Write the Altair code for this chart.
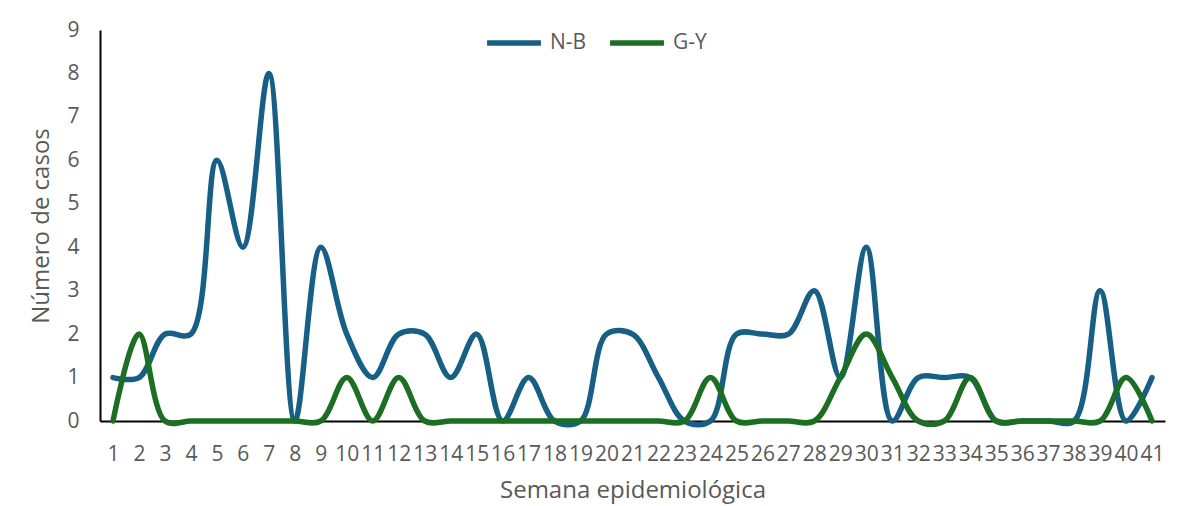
import altair as alt
import pandas as pd

weeks = [str(i) for i in range(1, 42)]
nb = [1, 1, 2, 2, 6, 4, 8, 0, 4, 2, 1, 2, 2, 1, 2, 0, 1, 0, 0, 2, 2, 1, 0, 0, 2, 2, 2, 3, 1, 4, 0, 1, 1, 1, 0, 0, 0, 0, 3, 0, 1]
gy = [0, 2, 0, 0, 0, 0, 0, 0, 0, 1, 0, 1, 0, 0, 0, 0, 0, 0, 0, 0, 0, 0, 0, 1, 0, 0, 0, 0, 1, 2, 1, 0, 0, 1, 0, 0, 0, 0, 0, 1, 0]
series = ["N-B", "G-Y"]
colors = ["#175f85", "#1c6e22"]

df = pd.DataFrame({
    "Semana": weeks * 2,
    "Casos": nb + gy,
    "Serie": [series[0]] * len(weeks) + [series[1]] * len(weeks),
})

FONT = "Open Sans"
x = alt.X("Semana:O", sort=weeks, title="Semana epidemiológica",
          scale=alt.Scale(type="point", padding=0.5),
          axis=alt.Axis(labelAngle=0, ticks=False, labelPadding=22, titlePadding=14,
                        labelOverlap=False))
y = alt.Y("Casos:Q", title="Número de casos",
          scale=alt.Scale(domain=[0, 9], nice=False),
          axis=alt.Axis(values=list(range(10)), ticks=False, labelPadding=21, titlePadding=13,
                        labelOverlap=False))
color = alt.Color("Serie:N", scale=alt.Scale(domain=series, range=colors),
                  legend=alt.Legend(title=None, orient="none", legendX=384, legendY=-17,
                                    direction="horizontal", symbolType="stroke",
                                    symbolSize=2900, symbolStrokeWidth=5.5,
                                    labelFontSize=21, labelColor="#595959", labelFont=FONT,
                                    columnPadding=12, labelOffset=6))

base = alt.Chart(df).mark_line(interpolate="catmull-rom", strokeWidth=5.5, strokeCap="round", clip=False)
l1 = base.transform_filter(alt.datum.Serie == "N-B").encode(x=x, y=y, color=color)
l2 = base.transform_filter(alt.datum.Serie == "G-Y").encode(x=x, y=y, color=color)

chart = alt.layer(l1, l2).properties(
    width=1065, height=391,
    autosize=alt.AutoSizeParams(type="none"),
    padding={"left": 92, "top": 22, "right": 6, "bottom": 84},
).configure_view(stroke=None).configure_axis(
    domainColor="black", domainWidth=2, grid=False,
    labelFontSize=21, titleFontSize=24, labelColor="#595959", titleColor="#595959",
    labelFont=FONT, titleFont=FONT, titleFontWeight="normal",
)

chart.save("out.html", embed_options={"renderer": "svg", "actions": False})
